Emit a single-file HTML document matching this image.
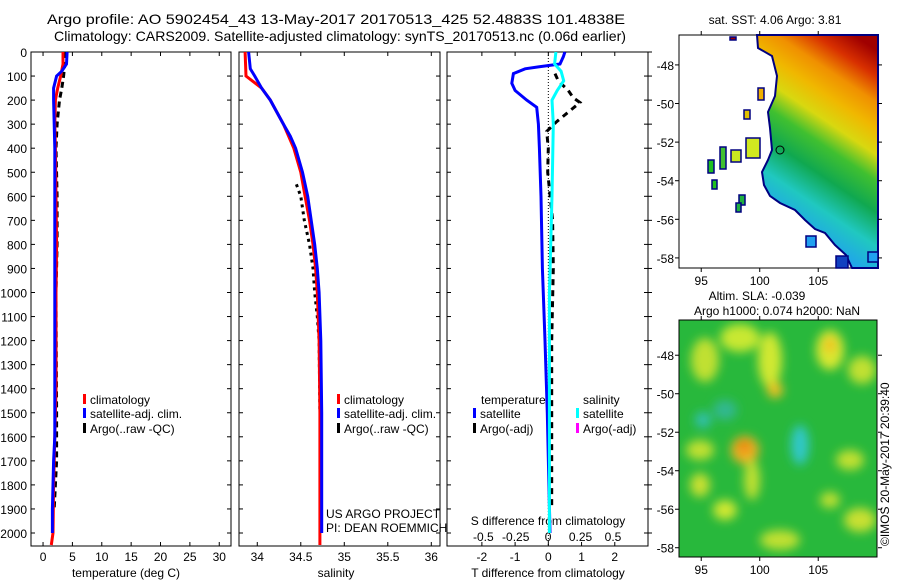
<!DOCTYPE html>
<html><head><meta charset="utf-8">
<style>
body{margin:0;background:#fff;}
svg{display:block;font-family:"Liberation Sans",sans-serif;}
</style></head>
<body>
<svg id="fig" width="900" height="580" viewBox="0 0 900 580">
<defs>
<linearGradient id="sstg" x1="0.8" y1="0" x2="0.45" y2="1">
<stop offset="0" stop-color="#a00000"/>
<stop offset="0.1" stop-color="#d83000"/>
<stop offset="0.2" stop-color="#f09000"/>
<stop offset="0.3" stop-color="#f0b800"/>
<stop offset="0.4" stop-color="#d8d810"/>
<stop offset="0.5" stop-color="#40c030"/>
<stop offset="0.62" stop-color="#10a850"/>
<stop offset="0.75" stop-color="#20c8c0"/>
<stop offset="0.9" stop-color="#20a0f0"/>
<stop offset="1" stop-color="#1040d0"/>
</linearGradient>
<filter id="blur" x="-50%" y="-50%" width="200%" height="200%"><feGaussianBlur stdDeviation="5"/></filter>
<clipPath id="m2clip"><rect x="679" y="320" width="198" height="237"/></clipPath>
</defs>
<g font-size="14" text-anchor="middle">
<text x="336" y="24" textLength="578" lengthAdjust="spacingAndGlyphs">Argo profile: AO 5902454_43 13-May-2017 20170513_425 52.4883S 101.4838E</text>
<text x="340" y="41" textLength="572" lengthAdjust="spacingAndGlyphs">Climatology: CARS2009. Satellite-adjusted climatology: synTS_20170513.nc (0.06d earlier)</text>
</g>
<g id="panels"></g>
<g id="maps">
<text x="775" y="24" font-size="12" text-anchor="middle">sat. SST: 4.06 Argo: 3.81</text>
<rect x="679" y="35" width="199" height="233" fill="#fff" stroke="#000"/>
<polygon fill="url(#sstg)" stroke="#000080" stroke-width="2"
 points="757,35 878,35 878,268 852,268 846,255 835,245 825,233 815,229 805,220 795,210 780,203 770,196 764,185 762,172 768,160 772,150 770,128 768,112 775,96 777,76 772,56 758,48"/>
<g stroke="#000080" stroke-width="1.5">
<rect x="758" y="88" width="6" height="12" fill="#f0b000"/>
<rect x="744" y="110" width="6" height="9" fill="#e0c000"/>
<rect x="746" y="138" width="14" height="20" fill="#d0e820"/>
<rect x="731" y="150" width="10" height="12" fill="#c8e820"/>
<rect x="720" y="147" width="6" height="22" fill="#40c030"/>
<rect x="708" y="160" width="6" height="13" fill="#20c020"/>
<rect x="712" y="180" width="5" height="9" fill="#20c020"/>
<rect x="739" y="195" width="6" height="10" fill="#20b040"/>
<rect x="736" y="203" width="5" height="9" fill="#20b040"/>
<rect x="806" y="236" width="10" height="11" fill="#20a0f0"/>
<rect x="868" y="252" width="10" height="10" fill="#20a0f0"/>
<rect x="836" y="256" width="12" height="12" fill="#1040c0"/>
<rect x="730" y="37" width="6" height="3" fill="#a00000"/>
</g>
<circle cx="780" cy="150" r="4" fill="none" stroke="#000"/>
<g id="map1axes"></g>
<text x="757" y="300" font-size="12" text-anchor="middle">Altim. SLA: -0.039</text>
<text x="777" y="315" font-size="12" text-anchor="middle">Argo h1000: 0.074 h2000: NaN</text>
<g clip-path="url(#m2clip)">
<rect x="679" y="320" width="198" height="237" fill="#28b83c"/>
<g filter="url(#blur)">
<ellipse cx="705" cy="360" rx="14" ry="22" fill="#c0e030"/>
<ellipse cx="740" cy="338" rx="20" ry="14" fill="#c8e830"/>
<ellipse cx="770" cy="360" rx="12" ry="28" fill="#d0e830"/>
<ellipse cx="775" cy="390" rx="8" ry="8" fill="#f0c020"/>
<ellipse cx="830" cy="350" rx="14" ry="20" fill="#d8e830"/>
<ellipse cx="830" cy="345" rx="6" ry="8" fill="#f0c020"/>
<ellipse cx="862" cy="370" rx="14" ry="14" fill="#c0e030"/>
<ellipse cx="745" cy="450" rx="14" ry="14" fill="#f0b020"/>
<ellipse cx="744" cy="446" rx="6" ry="6" fill="#e88010"/>
<ellipse cx="752" cy="480" rx="8" ry="20" fill="#c0e030"/>
<ellipse cx="800" cy="445" rx="9" ry="20" fill="#30c8c8"/>
<ellipse cx="703" cy="420" rx="8" ry="8" fill="#30c0b0"/>
<ellipse cx="700" cy="450" rx="14" ry="10" fill="#c0e030"/>
<ellipse cx="700" cy="485" rx="10" ry="12" fill="#c8e030"/>
<ellipse cx="725" cy="510" rx="12" ry="10" fill="#d0e830"/>
<ellipse cx="780" cy="540" rx="20" ry="10" fill="#c0e030"/>
<ellipse cx="850" cy="460" rx="14" ry="10" fill="#c0e030"/>
<ellipse cx="860" cy="520" rx="16" ry="12" fill="#c8e030"/>
<ellipse cx="830" cy="500" rx="10" ry="8" fill="#c0e030"/>
<ellipse cx="725" cy="410" rx="12" ry="10" fill="#30b890"/>
</g>
</g>
<rect x="679" y="320" width="198" height="237" fill="none" stroke="#000"/>
<g id="map2axes"></g>
<text transform="translate(889,546) rotate(-90)" font-size="12">©IMOS 20-May-2017 20:39:40</text>
</g>
</svg>
<script>
// depth levels and profiles
var tDepth = [0,50,100,150,200,300,400,600,800,1000,1200,1400,1600,1800,2000,2050];
var tClim  = [3.4,3.4,3.0,2.5,2.1,2.0,2.1,2.2,2.3,2.2,2.2,2.2,2.0,1.8,1.7,1.4];
var tSatDepth = [0,50,80,100,150,200,300,400,600,800,1000,1200,1400,1600,1700,1900,2000];
var tSat   = [4.1,4.0,3.2,2.3,1.8,1.8,1.9,2.0,2.0,2.0,2.0,2.0,2.0,2.0,1.8,1.6,1.6];
var tArgoDepth = [0,100,150,200,250,300,400,600,800,1000,1500,1700,1900];
var tArgo  = [3.9,3.5,3.2,2.8,2.6,2.4,2.2,2.4,2.4,2.2,2.3,2.3,1.9];
var sDepth = [0,100,150,200,300,400,500,600,700,800,900,1000,1200,1500,2000,2050];
var sClim  = [33.86,33.87,34.05,34.15,34.3,34.42,34.5,34.55,34.6,34.64,34.67,34.69,34.71,34.72,34.72,34.72];
var sSatDepth = [0,70,100,150,200,300,350,400,500,600,700,800,900,1000,1200,1500,2000];
var sSat   = [33.9,33.92,33.97,34.05,34.15,34.3,34.38,34.44,34.52,34.58,34.62,34.66,34.69,34.71,34.73,34.74,34.74];
var sArgoDepth = [550,600,700,800,900,1000,1100,1200,1500];
var sArgo  = [34.45,34.5,34.54,34.6,34.64,34.66,34.69,34.71,34.72];
var dTDepth = [0,20,50,62,70,90,130,160,200,230,300,400,600,900,1200,1500,2000];
var dTSat  = [0.5,0.45,0.35,-0.3,-0.7,-1.05,-1.1,-1.0,-0.65,-0.35,-0.3,-0.27,-0.22,-0.18,-0.1,-0.03,0.05];
var dSDepth = [0,50,80,120,160,200,300,600,1000,2000];
var dSSat  = [0.06,0.05,0.1,0.12,0.07,0.03,0.04,0.03,0.01,0.01];
var dTArgoDepth = [90,120,160,190,210,250,290,330,400,500,700,900,1200,1500,1900];
var dTArgo = [0.2,0.3,0.6,0.75,0.95,0.6,0.25,-0.05,0.0,-0.02,0.13,0.15,0.1,0.1,0.1];
var depthTicks = [0,100,200,300,400,500,600,700,800,900,1000,1100,1200,1300,1400,1500,1600,1700,1800,1900,2000];
var tTicks = [0,5,10,15,20,25,30];
var sTicks = [34,34.5,35,35.5,36];
var dTTicks = [-2,-1,0,1,2];
var dSTicks = [-0.5,-0.25,0,0.25,0.5];
var lonTicks = [95,100,105];
var lat1Ticks = [-48,-50,-52,-54,-56,-58];

var NS='http://www.w3.org/2000/svg';
var panels=document.getElementById('panels');
function el(tag,attrs,parent){var e=document.createElementNS(NS,tag);for(var k in attrs)e.setAttribute(k,attrs[k]);(parent||panels).appendChild(e);return e;}
function yD(d){return 52+d*0.2405;}
var PT={x0:31,x1:231,v0:-2.05,v1:32.0};
var PS={x0:239,x1:440,v0:33.79,v1:36.1};
var PD={x0:447,x1:648,v0:-3.05,v1:3.0};
var PDS={x0:447,x1:648,v0:-0.78,v1:0.77};
function xOf(p,v){return p.x0+(v-p.v0)/(p.v1-p.v0)*(p.x1-p.x0);}
function line(p,vals,deps,color,w,name,dash){
  var pts=vals.map(function(v,i){return xOf(p,v).toFixed(1)+','+yD(deps[i]).toFixed(1);}).join(' ');
  var e=el('polyline',{points:pts,fill:'none',stroke:color,'stroke-width':w});
  if(dash)e.setAttribute('stroke-dasharray',dash);
  
  
}
function frame(p,name){
  var e=el('rect',{x:p.x0,y:52,width:p.x1-p.x0,height:494,fill:'none',stroke:'#000'});
  
  
}
function xticks(p,ticks,y,labels,name){
  ticks.forEach(function(t){
    var x=xOf(p,t);
    el('line',{x1:x,x2:x,y1:546,y2:542,stroke:'#000'});
    el('line',{x1:x,x2:x,y1:52,y2:56,stroke:'#000'});
    var tx=el('text',{x:x,y:y,'font-size':12,'text-anchor':'middle'});
    tx.textContent=String(t);
    
    
  });
}
function text(x,y,s,name,anchor,size){
  var t=el('text',{x:x,y:y,'font-size':size||12,'text-anchor':anchor||'start'});
  t.textContent=s;
  
  
  return t;
}
frame(PT,'temperature-panel');frame(PS,'salinity-panel');frame(PD,'difference-panel');
depthTicks.forEach(function(d){
  var y=yD(d);
  [PT,PS,PD].forEach(function(p){
    el('line',{x1:p.x0,x2:p.x0+4,y1:y,y2:y,stroke:'#000'});
    el('line',{x1:p.x1,x2:p.x1-4,y1:y,y2:y,stroke:'#000'});
  });
  el('line',{x1:PD.x1,x2:PD.x1+4,y1:y,y2:y,stroke:'#000'});
  text(27,y+5,String(d),'depth-tick-label','end');
});
xticks(PT,tTicks,561,null,'temperature-tick-label');
xticks(PS,sTicks,561,null,'salinity-tick-label');
xticks(PD,dTTicks,561,null,'t-diff-tick-label');
dSTicks.forEach(function(t){
  var x=xOf(PDS,t);
  text(x,541,String(t),'s-diff-tick-label','middle');
});
text(126,577,'temperature (deg C)','x-axis-title-temperature','middle');
text(336,577,'salinity','x-axis-title-salinity','middle');
text(548,577,'T difference from climatology','x-axis-title-t-diff','middle');
text(548,525,'S difference from climatology','x-axis-title-s-diff','middle');
var z=el('line',{x1:xOf(PD,0),x2:xOf(PD,0),y1:52,y2:546,stroke:'#000','stroke-dasharray':'1,2'});


line(PT,tArgo,tArgoDepth,'#000',3,'temp-argo','6,4');
line(PT,tClim,tDepth,'#f00',3,'temp-climatology');
line(PT,tSat,tSatDepth,'#00f',3,'temp-satellite-adj');
line(PS,sArgo,sArgoDepth,'#000',3,'sal-argo','3,4');
line(PS,sClim,sDepth,'#f00',3,'sal-climatology');
line(PS,sSat,sSatDepth,'#00f',3,'sal-satellite-adj');
line(PD,dTArgo,dTArgoDepth,'#000',3,'tdiff-argo','6,5');
line(PD,dTSat,dTDepth,'#00f',3,'tdiff-satellite');
line(PDS,dSSat,dSDepth,'#00ffff',3,'sdiff-satellite');
function leg(x,y,color,label,name){
  var r=el('rect',{x:x,y:y-10,width:3,height:10,fill:color});
  
  
  text(x+7,y,label,name);
}
leg(83,404,'#f00','climatology','legend-climatology');
leg(83,418,'#00f','satellite-adj. clim.','legend-satellite-adj');
leg(83,433,'#000','Argo(..raw -QC)','legend-argo');
leg(337,404,'#f00','climatology','legend-sal-climatology');
leg(337,418,'#00f','satellite-adj. clim.','legend-sal-satellite-adj');
leg(337,433,'#000','Argo(..raw -QC)','legend-sal-argo');
text(481,404,'temperature','legend-temperature-header');
text(583,404,'salinity','legend-salinity-header');
leg(473,418,'#00f','satellite','legend-t-satellite');
leg(473,433,'#000','Argo(-adj)','legend-t-argo');
leg(576,418,'#00ffff','satellite','legend-s-satellite');
leg(576,433,'#ff00ff','Argo(-adj)','legend-s-argo');
text(326,518,'US ARGO PROJECT','project-label');
text(326,532,'PI: DEAN ROEMMICH','pi-label');
function mapAxes(gid,y0,y1,latTop,pxPerLat,latTicks){
  var g=document.getElementById(gid);
  lonTicks.forEach(function(l){
    var x=679+(l-93.1)*11.7;
    el('line',{x1:x,x2:x,y1:y1,y2:y1+4,stroke:'#000'},g);
    el('line',{x1:x,x2:x,y1:y0,y2:y0-4,stroke:'#000'},g);
    var t=el('text',{x:x,y:y1+17,'font-size':12,'text-anchor':'middle'},g);
    t.textContent=String(l);
    
    
  });
  latTicks.forEach(function(l){
    var y=y0+(latTop-l)*pxPerLat;
    el('line',{x1:878,x2:882,y1:y,y2:y,stroke:'#000'},g);
    el('line',{x1:675,x2:679,y1:y,y2:y,stroke:'#000'},g);
    var t=el('text',{x:674,y:y+5,'font-size':12,'text-anchor':'end'},g);
    t.textContent=String(l);
    
    
  });
}
mapAxes('map1axes',35,268,-46.45,19.3,lat1Ticks);
mapAxes('map2axes',320,557,-46.17,19.25,lat1Ticks);
</script>
</body></html>
